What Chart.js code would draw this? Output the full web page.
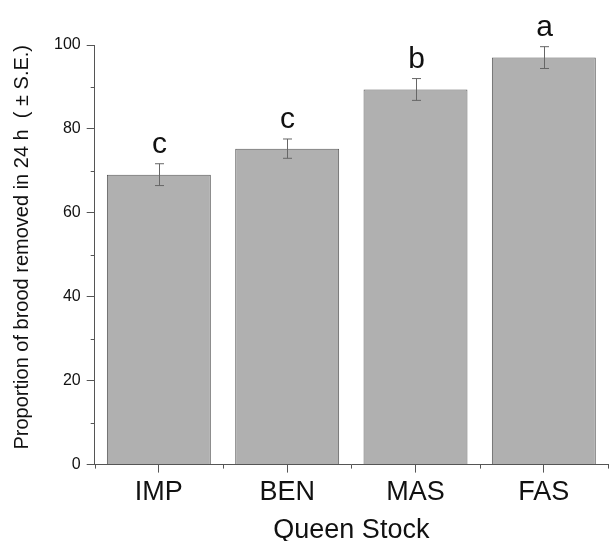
<!DOCTYPE html>
<html lang="en">
<head>
    <meta charset="UTF-8">
    <title>Brood removal by queen stock</title>
    <script src="https://cdn.jsdelivr.net/npm/chart.js"></script>
    <style>
        html, body { margin: 0; padding: 0; background: #fff; }
        #wrap { width: 614px; height: 541px; }
    </style>
</head>
<body>
<div id="wrap"><canvas id="chart" width="614" height="541"></canvas></div>
<script>
// data
const stocks = ["IMP", "BEN", "MAS", "FAS"];
const removed = [69.1, 75.3, 89.4, 97.0];
const stdErr = [2.6, 2.3, 2.6, 2.6];
const groups = ["c", "c", "b", "a"];
const minorTicks = [10, 30, 50, 70, 90];

const axisColor = "#555";
const fontFam = "'Liberation Sans', Arial, sans-serif";

// error bars, group letters and minor ticks
const extras = {
    id: "extras",
    afterDatasetsDraw(chart) {
        const ctx = chart.ctx;
        const x = chart.scales.x;
        const y = chart.scales.y;
        ctx.save();
        ctx.strokeStyle = "#666";
        ctx.lineWidth = 1;
        stocks.forEach((s, i) => {
            const cx = Math.round(x.getPixelForValue(i)) + 0.5;
            const top = y.getPixelForValue(removed[i] + stdErr[i]);
            const bot = y.getPixelForValue(removed[i] - stdErr[i]);
            ctx.beginPath();
            ctx.moveTo(cx, top); ctx.lineTo(cx, bot);
            ctx.moveTo(cx - 4.5, top); ctx.lineTo(cx + 4.5, top);
            ctx.moveTo(cx - 4.5, bot); ctx.lineTo(cx + 4.5, bot);
            ctx.stroke();
            ctx.fillStyle = "#111";
            ctx.font = "30px " + fontFam;
            ctx.textAlign = "center";
            ctx.textBaseline = "alphabetic";
            ctx.fillText(groups[i], cx, top - 11);
        });
        // minor ticks
        ctx.strokeStyle = axisColor;
        ctx.beginPath();
        minorTicks.forEach(v => {
            const py = Math.round(y.getPixelForValue(v)) + 0.5;
            ctx.moveTo(y.right - 4, py); ctx.lineTo(y.right, py);
        });
        for (let i = 0; i <= stocks.length; i++) {
            const px = Math.round(x.getPixelForValue(i - 0.5)) + 0.5;
            ctx.moveTo(px, x.top); ctx.lineTo(px, x.top + 4);
        }
        ctx.stroke();
        ctx.restore();
    }
};

new Chart(document.getElementById("chart"), {
    type: "bar",
    data: {
        labels: stocks,
        datasets: [{
            data: removed,
            backgroundColor: "#b0b0b0",
            borderColor: "#5a5a5a",
            borderWidth: 1,
            categoryPercentage: 1.0,
            barPercentage: 0.81
        }]
    },
    options: {
        responsive: false,
        animation: false,
        layout: { padding: { top: 45, right: 6, left: 6, bottom: -3 } },
        plugins: { legend: { display: false }, tooltip: { enabled: false } },
        scales: {
            x: {
                grid: { offset: false, drawOnChartArea: false, tickLength: 8, color: axisColor },
                border: { color: axisColor },
                ticks: { color: "#111", padding: 4, font: { size: 27, family: fontFam } },
                title: { display: true, text: "Queen Stock", color: "#111", padding: { top: 4, bottom: 0 },
                    font: { size: 27, family: fontFam, lineHeight: 1.0 } }
            },
            y: {
                min: 0, max: 100,
                grid: { drawOnChartArea: false, tickLength: 8, color: axisColor },
                border: { color: axisColor },
                ticks: { stepSize: 20, color: "#111", padding: 6, font: { size: 16, family: fontFam } },
                title: { display: true, align: "end", text: "Proportion of brood removed in 24 h  ( ± S.E.)", color: "#111",
                    padding: { top: 4, bottom: 14 }, font: { size: 20, family: fontFam } }
            }
        }
    },
    plugins: [extras]
});
</script>
</body>
</html>
